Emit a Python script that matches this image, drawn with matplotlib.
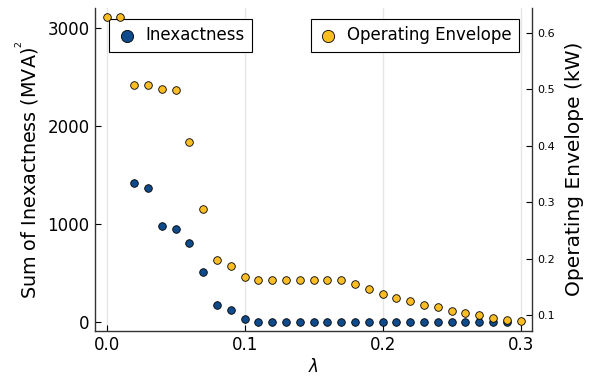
import numpy as np
import matplotlib
matplotlib.use("Agg")
import matplotlib.pyplot as plt

# lambda values
lam_inex = [0.02, 0.03, 0.04, 0.05, 0.06, 0.07, 0.08, 0.09, 0.10, 0.11, 0.12, 0.13, 0.14, 0.15,
            0.16, 0.17, 0.18, 0.19, 0.20, 0.21, 0.22, 0.23, 0.24, 0.25, 0.26, 0.27, 0.28, 0.29]
inexactness = [1420, 1366, 983, 956, 810, 515, 173, 128, 34, 6, 5, 5, 4, 4,
               4, 3, 3, 3, 3, 2, 2, 2, 2, 1, 1, 1, 1, 1]

lam_env = [0.00, 0.01, 0.02, 0.03, 0.04, 0.05, 0.06, 0.07, 0.08, 0.09, 0.10, 0.11, 0.12, 0.13,
           0.14, 0.15, 0.16, 0.17, 0.18, 0.19, 0.20, 0.21, 0.22, 0.23, 0.24, 0.25, 0.26, 0.27,
           0.28, 0.29, 0.30]
envelope = [0.628, 0.628, 0.508, 0.508, 0.500, 0.498, 0.407, 0.289, 0.197, 0.187, 0.168, 0.162,
            0.162, 0.162, 0.162, 0.162, 0.162, 0.162, 0.156, 0.147, 0.138, 0.131, 0.125, 0.119,
            0.114, 0.108, 0.104, 0.100, 0.096, 0.092, 0.089]

blue = '#0f4a8a'
orange = '#fbbd24'

fig = plt.figure(figsize=(5.95, 3.83), dpi=100)
ax = fig.add_axes([0.159, 0.1366, 0.7356, 0.8434])
ax2 = ax.twinx()

ax.scatter(lam_inex, inexactness, s=30, color=blue, edgecolor='black', linewidth=0.6,
           label='Inexactness', zorder=3)
ax2.scatter(lam_env, envelope, s=30, color=orange, edgecolor='black', linewidth=0.6,
            label='Operating Envelope', zorder=3)

ax.set_xlim(-0.0087, 0.3084)
ax.set_ylim(-85, 3211)
ax2.set_ylim(0.0727, 0.6446)

ax.set_xticks([0.0, 0.1, 0.2, 0.3])
ax.set_xticklabels(['0.0', '0.1', '0.2', '0.3'])
ax.set_yticks([0, 1000, 2000, 3000])
ax2.set_yticks([0.1, 0.2, 0.3, 0.4, 0.5, 0.6])

ax.grid(axis='x', color='#e6e6e6', linewidth=1)
ax.set_axisbelow(True)

for a in (ax, ax2):
    a.spines['top'].set_visible(False)
    for s in a.spines.values():
        s.set_linewidth(1.0)
        s.set_color('#333333')
ax.spines['right'].set_visible(False)
ax2.spines['left'].set_visible(False)
ax2.spines['bottom'].set_visible(False)

ax.tick_params(direction='in', labelsize=12, length=4, width=0.8)
ax2.tick_params(direction='in', labelsize=8, length=4, width=0.8)

ax.set_xlabel(r'$\lambda$', fontsize=12, labelpad=3)
ax.set_ylabel(r'Sum of Inexactness (MVA)$^{^2}$', fontsize=13.8, labelpad=5)
ax2.set_ylabel('Operating Envelope (kW)', fontsize=14.5, labelpad=7)

leg_kw = dict(borderaxespad=0, fancybox=False, edgecolor='black', fontsize=12,
              markerscale=1.6, handlelength=1.2, handletextpad=0.5, borderpad=0.45,
              framealpha=1)
leg1 = ax.legend(loc='upper left', bbox_to_anchor=(0.033, 0.965), **leg_kw)
leg1.get_frame().set_linewidth(0.8)
leg2 = ax2.legend(loc='upper right', bbox_to_anchor=(0.969, 0.965), **leg_kw)
leg2.get_frame().set_linewidth(0.8)

fig.savefig('out.png', dpi=100)
